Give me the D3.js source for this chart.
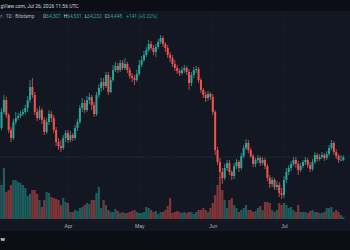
<!DOCTYPE html>
<html>
<head>
<meta charset="utf-8">
<script src="https://cdn.jsdelivr.net/npm/d3@7"></script>
<style>
html, body { margin: 0; padding: 0; background: #0c0e15; }
svg { display: block; font-family: Roboto, "Liberation Sans", sans-serif; }
</style>
</head>
<body>
<div id="vis"></div>
<script>
// daily candles, BTC/USD Bitstamp, Mar 3 - Jul 26
var firstDay = "2026-03-03";
var lastDay = "2026-07-27";

var opens = [66800, 65900, 66700, 67300, 66550, 65800, 65400, 66200, 66400, 66500, 66600, 66700, 66900, 67300, 67950, 67550, 66700, 66400, 66800, 66300,
  65700, 66200, 66600, 66400, 65800, 65200, 65000, 64900, 65400, 65650, 65300, 65550, 65400, 65900, 66200, 66900, 67150, 66800, 67300, 67450,
  67050, 66600, 67550, 67900, 68200, 68000, 68550, 67700, 68300, 68800, 69000, 68800, 69150, 68900, 69100, 68800, 68500, 68400, 68300, 68600,
  69050, 69300, 69550, 69800, 70100, 69900, 69700, 69950, 70200, 70400, 70100, 69900, 69550, 69400, 69100, 68900, 68750, 68650, 68800, 68900,
  68700, 68150, 68550, 68800, 68850, 68300, 67800, 67550, 67400, 67600, 67450, 66700, 64800, 64200, 63700, 63400, 63900, 64150, 63700, 63500,
  64000, 64200, 63900, 64500, 64900, 65150, 64800, 64500, 64100, 64300, 64400, 64150, 64300, 64000, 63400, 63100, 63300, 62950, 63050, 62650,
  62550, 63300, 63700, 63900, 64100, 64300, 64100, 63800, 64000, 64200, 64300, 64050, 63850, 64200, 64550, 64350, 64450, 64550, 64400, 64600,
  64900, 65150, 64700, 64500, 64300, 64307];

var highs = [67050, 66900, 67550, 67450, 66650, 65950, 66350, 66700, 66650, 66750, 66850, 67050, 67500, 68300, 68400, 67700, 66900, 67000, 66900, 66450,
  66400, 66800, 66750, 66550, 65950, 65400, 65300, 65550, 65800, 65800, 65750, 65650, 66050, 66350, 67050, 67400, 67300, 67500, 67650, 67550,
  67200, 67700, 68100, 68400, 68400, 68700, 68700, 68450, 69050, 69200, 69150, 69300, 69300, 69400, 69200, 68950, 68650, 68550, 68800, 69300,
  69500, 69750, 69950, 70300, 70250, 70050, 70100, 70350, 70550, 70500, 70200, 70050, 69700, 69550, 69300, 69050, 68850, 68950, 69050, 69000,
  68850, 68700, 68950, 69000, 68950, 68400, 67900, 67700, 67750, 67700, 67600, 66800, 64950, 64400, 63900, 64100, 64300, 64300, 63800, 64150,
  64350, 64300, 64650, 65050, 65350, 65300, 64900, 64600, 64400, 64550, 64500, 64450, 64400, 64100, 63550, 63450, 63400, 63250, 63200, 62900,
  63500, 63900, 64050, 64250, 64450, 64450, 64250, 64150, 64300, 64450, 64400, 64200, 64350, 64700, 64650, 64600, 64700, 64650, 64750, 65050,
  65300, 65250, 64850, 64600, 64550, 64531];

var lows = [65700, 65800, 66600, 66400, 65650, 65200, 65300, 66050, 66300, 66400, 66500, 66600, 66700, 67150, 67400, 66550, 66250, 66300, 66100, 65550,
  65600, 66050, 66200, 65650, 65000, 64800, 64700, 64800, 65200, 65150, 65200, 65250, 65300, 65750, 66100, 66700, 66650, 66700, 67100, 66800,
  66450, 66500, 67400, 67700, 67800, 67900, 67550, 67650, 68200, 68700, 68650, 68700, 68800, 68800, 68650, 68350, 68200, 68050, 68200, 68500,
  68950, 69200, 69450, 69700, 69800, 69550, 69450, 69850, 70100, 69950, 69700, 69400, 69200, 68950, 68750, 68600, 68500, 68550, 68650, 68550,
  67800, 68000, 68400, 68650, 68150, 67650, 67400, 67200, 67250, 67300, 66550, 64550, 64050, 63400, 63100, 63300, 63750, 63550, 63300, 63350,
  63850, 63700, 63800, 64400, 64800, 64650, 64400, 63950, 63950, 64150, 64000, 64050, 63850, 63250, 62900, 62950, 62800, 62800, 62450, 62350,
  62400, 63150, 63550, 63750, 64000, 63900, 63550, 63700, 63900, 64050, 63900, 63700, 63750, 64100, 64200, 64250, 64350, 64250, 64300, 64500,
  64800, 64550, 64350, 64150, 64250, 64232];

var closes = [65900, 66700, 67300, 66550, 65800, 65400, 66200, 66400, 66500, 66600, 66700, 66900, 67300, 67950, 67550, 66700, 66400, 66800, 66300, 65700,
  66200, 66600, 66400, 65800, 65200, 65000, 64900, 65400, 65650, 65300, 65550, 65400, 65900, 66200, 66900, 67150, 66800, 67300, 67450, 67050,
  66600, 67550, 67900, 68200, 68000, 68550, 67700, 68300, 68800, 69000, 68800, 69150, 68900, 69100, 68800, 68500, 68400, 68300, 68600, 69050,
  69300, 69550, 69800, 70100, 69900, 69700, 69950, 70200, 70400, 70100, 69900, 69550, 69400, 69100, 68900, 68750, 68650, 68800, 68900, 68700,
  68150, 68550, 68800, 68850, 68300, 67800, 67550, 67400, 67600, 67450, 66700, 64800, 64200, 63700, 63400, 63900, 64150, 63700, 63500, 64000,
  64200, 63900, 64500, 64900, 65150, 64800, 64500, 64100, 64300, 64400, 64150, 64300, 64000, 63400, 63100, 63300, 62950, 63050, 62650, 62550,
  63300, 63700, 63900, 64100, 64300, 64100, 63800, 64000, 64200, 64300, 64050, 63850, 64200, 64550, 64350, 64450, 64550, 64400, 64600, 64900,
  65150, 64700, 64500, 64300, 64307, 64448];

var volumes = [7800, 6800, 10200, 5400, 5800, 6800, 7800, 7800, 7400, 7200, 6800, 6200, 4600, 5000, 5800, 5800, 5000, 3800, 2400, 3800,
  5400, 5200, 4400, 4200, 4000, 3800, 2800, 4200, 3400, 3200, 1400, 1400, 1800, 1600, 2200, 2400, 2800, 3200, 3000, 3800,
  3800, 5200, 6400, 2200, 3800, 2800, 1800, 1400, 1400, 2000, 1600, 1200, 1400, 1200, 1200, 1400, 1600, 1800, 1400, 1200,
  1200, 1400, 2400, 2200, 1800, 1400, 1600, 1000, 1400, 1400, 1800, 2600, 4200, 1200, 1400, 1600, 1400, 1200, 1400, 1200,
  1400, 1400, 1000, 1400, 1800, 1800, 2200, 1800, 1400, 2200, 3200, 4800, 6800, 8400, 5800, 3800, 2200, 3800, 4200, 2800,
  2200, 1400, 1800, 2200, 2800, 1800, 1800, 1400, 1600, 2200, 2600, 1800, 3400, 3400, 3200, 1800, 1400, 1800, 3200, 2800,
  3200, 2800, 2200, 2400, 1800, 1400, 2800, 1400, 1400, 1400, 1200, 1600, 1800, 1400, 1400, 1200, 1200, 1400, 2200, 2200,
  2400, 1400, 1800, 1400, 800, 400];

var monthTicks = ["2026-04-01", "2026-05-01", "2026-06-01", "2026-07-01"];
// header / footer texts, as far as they are visible in the snapshot crop
var snapshotText = "gView.com, Jul 26, 2026 11:56 UTC";
var symbolText = "r · 1D · Bitstamp";
var logoText = "w";

var width = 350, height = 250;
var upColor = "#26a69a", downColor = "#ef5350";

var parse = d3.utcParse("%Y-%m-%d");
var days = d3.utcDay.range(parse(firstDay), parse(lastDay));
var candles = days.map(function(d, i) {
  return { date: d, o: opens[i], h: highs[i], l: lows[i], c: closes[i], v: volumes[i] };
});
var ticks = monthTicks.map(parse);

var x = d3.scaleUtc()
  .domain([ticks[0], ticks[3]])
  .range([68, 284]);
var y = d3.scaleLinear()
  .domain([62300, 72300])
  .range([200, 0]);
var yVol = d3.scaleLinear()
  .domain([0, 10000])
  .range([219, 169]);

var svg = d3.select("#vis")
  .append("svg")
  .attr("width", width)
  .attr("height", height);

// backgrounds
svg.append("rect").attr("width", width).attr("height", height).attr("fill", "#0c0e15");
svg.append("rect").attr("y", 11).attr("width", width).attr("height", 220).attr("fill", "#131722");

// grid
svg.append("g")
  .selectAll("line")
  .data(ticks)
  .enter()
  .append("line")
  .attr("x1", function(d) { return x(d); })
  .attr("x2", function(d) { return x(d); })
  .attr("y1", 11)
  .attr("y2", 220)
  .attr("stroke", "#1b2030")
  .attr("stroke-width", 0.6);

svg.append("g")
  .selectAll("line")
  .data(d3.range(63000, 71001, 2000))
  .enter()
  .append("line")
  .attr("x1", 0)
  .attr("x2", width)
  .attr("y1", function(d) { return y(d); })
  .attr("y2", function(d) { return y(d); })
  .attr("stroke", "#1b2030")
  .attr("stroke-width", 0.6);

// volume
svg.append("g")
  .selectAll("rect")
  .data(candles)
  .enter()
  .append("rect")
  .attr("x", function(d) { return x(d.date) - 1.1; })
  .attr("width", 2.2)
  .attr("y", function(d) { return yVol(d.v); })
  .attr("height", function(d) { return yVol(0) - yVol(d.v); })
  .attr("fill", function(d) { return d.c >= d.o ? upColor : downColor; })
  .attr("fill-opacity", 0.5);

// last price line
var last = candles[candles.length - 1];
svg.append("line")
  .attr("x1", 0)
  .attr("x2", width)
  .attr("y1", y(last.c))
  .attr("y2", y(last.c))
  .attr("stroke", upColor)
  .attr("stroke-opacity", 0.55)
  .attr("stroke-width", 0.6)
  .attr("stroke-dasharray", "1,1.2");

// candles
var cg = svg.append("g");
cg.selectAll("line")
  .data(candles)
  .enter()
  .append("line")
  .attr("x1", function(d) { return x(d.date); })
  .attr("x2", function(d) { return x(d.date); })
  .attr("y1", function(d) { return y(d.h); })
  .attr("y2", function(d) { return y(d.l); })
  .attr("stroke", function(d) { return d.c >= d.o ? upColor : downColor; })
  .attr("stroke-width", 0.8);

cg.selectAll("rect")
  .data(candles)
  .enter()
  .append("rect")
  .attr("x", function(d) { return x(d.date) - 1; })
  .attr("width", 2)
  .attr("y", function(d) { return y(Math.max(d.o, d.c)); })
  .attr("height", function(d) { return Math.max(0.8, Math.abs(y(d.o) - y(d.c))); })
  .attr("fill", function(d) { return d.c >= d.o ? upColor : downColor; });

// time axis
var xAxis = d3.axisBottom(x)
  .tickValues(ticks)
  .tickFormat(d3.utcFormat("%b"))
  .tickSize(0)
  .tickPadding(0);
var ax = svg.append("g")
  .attr("transform", "translate(0,224)")
  .call(xAxis);
ax.select(".domain").remove();
ax.selectAll("text")
  .attr("fill", "#b2b5be")
  .style("font-size", "5px");

// header: snapshot line
var fmt = d3.format(",");
svg.append("text")
  .attr("x", 0.5)
  .attr("y", 8)
  .attr("fill", "#d1d4dc")
  .style("font-size", "5px")
  .text(snapshotText);

// header: symbol + OHLC legend
svg.append("text")
  .attr("x", 0.5)
  .attr("y", 18)
  .attr("fill", "#b2b5be")
  .style("font-size", "4.8px")
  .text(symbolText);

var change = last.c - last.o;
var legend = svg.append("text")
  .attr("x", 43)
  .attr("y", 18)
  .style("font-size", "4.8px");
[["O", last.o], ["H", last.h], ["L", last.l], ["C", last.c]].forEach(function(p, i) {
  legend.append("tspan").attr("dx", i ? 3 : 0).attr("fill", "#d1d4dc").text(p[0]);
  legend.append("tspan").attr("fill", upColor).text(fmt(p[1]));
});
legend.append("tspan")
  .attr("dx", 4)
  .attr("fill", upColor)
  .text("+" + fmt(change) + " (+" + (change / last.o * 100).toFixed(2) + "%)");

// footer logo fragment
svg.append("text")
  .attr("x", 0.5)
  .attr("y", 241)
  .attr("fill", "#e0e3eb")
  .style("font-size", "6px")
  .style("font-weight", "bold")
  .text(logoText);
</script>
</body>
</html>
